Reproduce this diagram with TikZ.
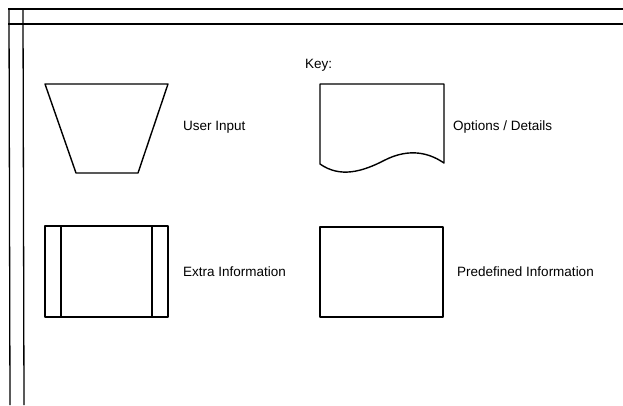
\documentclass[tikz,border=0pt]{standalone}
\usepackage{fontspec}
\setmainfont{Liberation Sans}
\begin{document}
\begin{tikzpicture}[x=1pt,y=-1pt,
  shape line/.style={line width=1.4pt, line join=round},
  frame line/.style={line width=1.3pt},
  label text/.style={anchor=west, inner sep=0pt, font=\fontsize{13.5}{16}\selectfont}]
\useasboundingbox (0,0) rectangle (623,405);
% frame
\draw[frame line] (8,9) -- (623,9);
\draw[frame line] (8,24) -- (623,24);
\draw[frame line] (9,9) -- (10,405);
\draw[frame line] (23,9) -- (24,405);
% key label
\node[label text] (key) at (305,65) {Key:};
% user input (trapezium)
\draw[shape line] (45,84) -- (168,84) -- (138,173) -- (76,173) -- cycle;
\node[label text] (ui) at (183,127) {User Input};
% options / details (document)
\draw[shape line] (320,164) -- (320,84) -- (444,84) -- (444,163)
  .. controls (425,150) and (405,150) .. (385,160)
  .. controls (362,172) and (340,178) .. cycle;
\node[label text] (od) at (453,127) {Options / Details};
% extra information (predefined process)
\draw[shape line] (45,226) rectangle (168,317);
\draw[shape line] (61,226) -- (61,317);
\draw[shape line] (152,226) -- (152,317);
\node[label text] (ei) at (183,272) {Extra Information};
% predefined information
\draw[shape line] (320,227) rectangle (443,317);
\node[label text] (pi) at (457,272) {Predefined Information};
\end{tikzpicture}
\end{document}
